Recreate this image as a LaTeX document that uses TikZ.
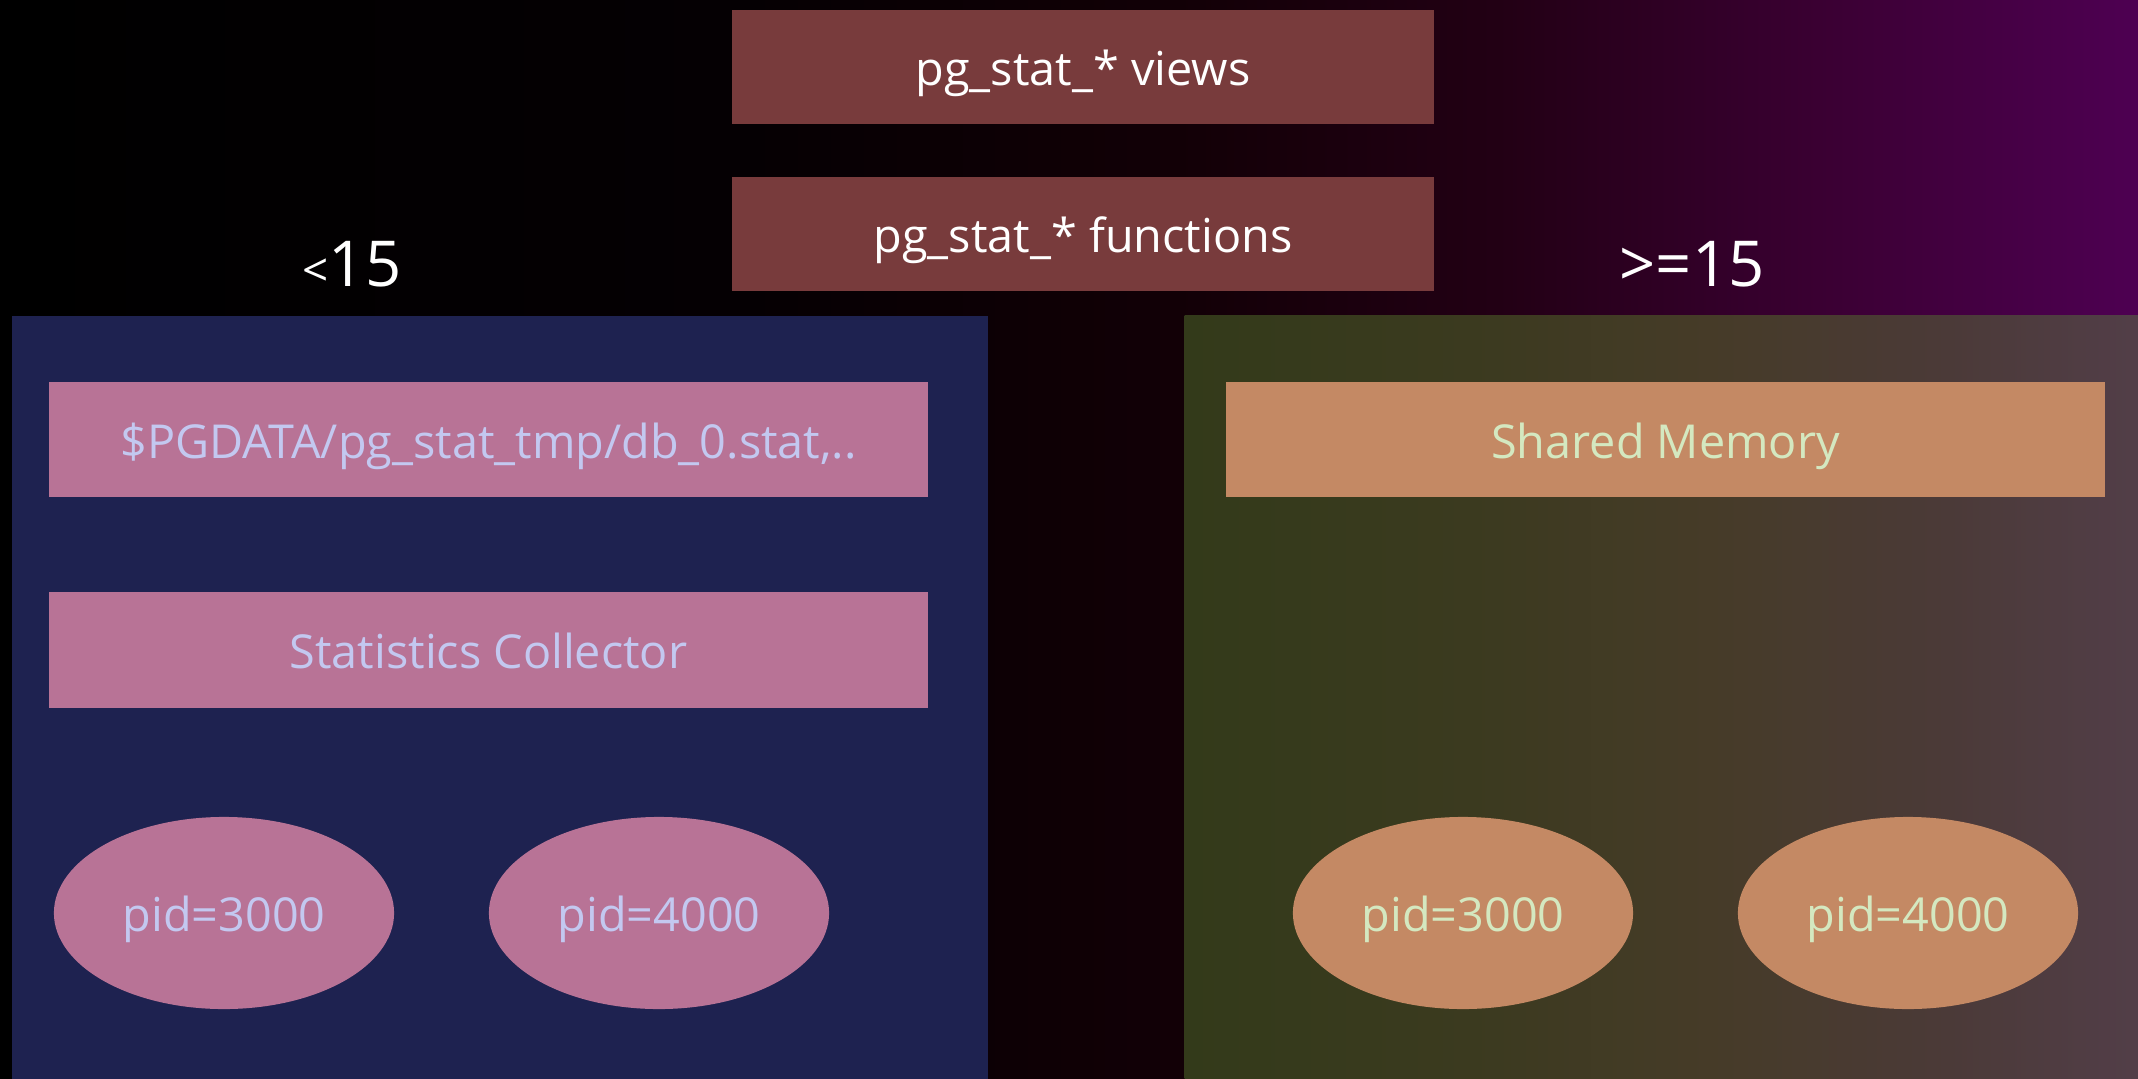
\documentclass[tikz,border=0pt]{standalone}
\usepackage{fontspec}
\setmainfont{Open Sans}
\usetikzlibrary{shapes.geometric}
\definecolor{bgA}{HTML}{050003}
\definecolor{bgB}{HTML}{120006}
\definecolor{bgC}{HTML}{220014}
\definecolor{bgD}{HTML}{3A0032}
\definecolor{bgE}{HTML}{4E0052}
\definecolor{rpA}{HTML}{333A1A}
\definecolor{rpB}{HTML}{3B3A1F}
\definecolor{rpC}{HTML}{463B28}
\definecolor{rpD}{HTML}{4B3A38}
\definecolor{rpE}{HTML}{523E48}
\definecolor{navy}{HTML}{1E2250}
\definecolor{topred}{HTML}{783B3C}
\definecolor{pinkfill}{HTML}{B87396}
\definecolor{pinktext}{HTML}{C3C8F0}
\definecolor{orangefill}{HTML}{C48964}
\definecolor{greentext}{HTML}{D4E8C0}
\pgfdeclarehorizontalshading{bgshade}{100bp}{color(0bp)=(black); color(25bp)=(black); color(42.5bp)=(bgA); color(52.5bp)=(bgB); color(60bp)=(bgC); color(67.5bp)=(bgD); color(75bp)=(bgE); color(100bp)=(bgE)}
\pgfdeclarehorizontalshading{rpshade}{100bp}{color(0bp)=(rpA); color(25bp)=(rpA); color(40bp)=(rpB); color(52.5bp)=(rpC); color(65bp)=(rpD); color(75bp)=(rpE); color(100bp)=(rpE)}
\tikzset{
  txt/.style={font=\fontsize{13.3}{16}\selectfont, text height=10.6pt, text depth=0pt},
  panelbox/.style={rectangle, inner sep=0pt, anchor=north west, minimum height=7.63cm},
  topbox/.style={rectangle, inner sep=0pt, fill=topred, text=white, minimum width=7.02cm, minimum height=1.14cm, txt},
  pinkbox/.style={rectangle, inner sep=0pt, fill=pinkfill, text=pinktext, minimum width=8.79cm, minimum height=1.15cm, txt},
  orangebox/.style={rectangle, inner sep=0pt, fill=orangefill, text=greentext, minimum width=8.79cm, minimum height=1.15cm, txt},
  pinkell/.style={ellipse, inner sep=0pt, fill=pinkfill, text=pinktext, minimum width=3.4cm, minimum height=1.92cm, txt},
  orangeell/.style={ellipse, inner sep=0pt, fill=orangefill, text=greentext, minimum width=3.4cm, minimum height=1.92cm, txt},
  verlabel/.style={text=white, inner sep=0pt, font=\fontsize{18}{21}\selectfont, text height=12.6pt, text depth=0pt}
}
\begin{document}
\begin{tikzpicture}[x=0.01cm, y=-0.01cm]
\useasboundingbox (0,0) rectangle (2138,1078);
\path[shade, shading=bgshade] (0,0) rectangle (2138,1078);
\node[topbox] (views) at (1083,67) {pg\_stat\_* views};
\node[topbox] (funcs) at (1083,234) {pg\_stat\_* functions};
\node[verlabel] (lt) at (352,264) {{\fontsize{13}{15}\selectfont<}15};
\node[verlabel] (ge) at (1692,264) {>=15};
\node[panelbox, fill=navy, minimum width=9.76cm] (lp) at (11,315) {};
\node[panelbox, shade, shading=rpshade, minimum width=9.54cm] (rp) at (1184,315) {};
\node[pinkbox] (pgdata) at (488.5,439.5) {\$PGDATA/pg\_stat\_tmp/db\_0.stat,..};
\node[pinkbox] (collector) at (488.5,650) {Statistics Collector};
\node[orangebox] (shmem) at (1665.5,439.5) {Shared Memory};
\node[pinkell] (p3l) at (224,913) {pid=3000};
\node[pinkell] (p4l) at (659,913) {pid=4000};
\node[orangeell] (p3r) at (1463,913) {pid=3000};
\node[orangeell] (p4r) at (1908,913) {pid=4000};
\end{tikzpicture}
\end{document}
